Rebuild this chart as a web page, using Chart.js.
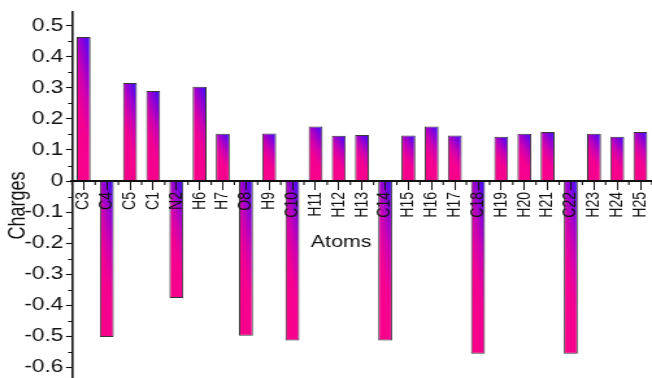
<!DOCTYPE html>
<html>
<head>
<meta charset="utf-8">
<script src="https://cdn.jsdelivr.net/npm/chart.js@4/dist/chart.umd.min.js"></script>
<style>
  html, body { margin: 0; padding: 0; background: #ffffff; }
  #plot { display: block; width: 652px; height: 378px; }
</style>
</head>
<body>
<canvas id="plot" width="502" height="378" style="width:652px;height:378px"></canvas>
<script>
// Partial atomic charges per atom
const atoms = ['C3','C4','C5','C1','N2','H6','H7','O8','H9','C10','H11','H12','H13',
               'C14','H15','H16','H17','C18','H19','H20','H21','C22','H23','H24','H25'];
const charges = [0.464, -0.503, 0.316, 0.290, -0.377, 0.304, 0.152, -0.499, 0.153,
                 -0.514, 0.176, 0.146, 0.148, -0.514, 0.147, 0.176, 0.147, -0.557,
                 0.143, 0.152, 0.158, -0.557, 0.152, 0.143, 0.158];

// Value axis: labelled ticks and the unlabelled half-steps between them
const yTickValues = [-0.6, -0.5, -0.4, -0.3, -0.2, -0.1, 0, 0.1, 0.2, 0.3, 0.4, 0.5];
const yTickLabels = ['-0.6', '-0.5', '-0.4', '-0.3', '-0.2', '-0.1', '0', '0.1', '0.2', '0.3', '0.4', '0.5'];
const yMinorValues = [-0.55, -0.45, -0.35, -0.25, -0.15, -0.05, 0.05, 0.15, 0.25, 0.35, 0.45];
const yRange = [-0.632, 0.545];

const xTitle = 'Atoms';
const yTitle = 'Charges';

const FONT = "'Liberation Sans', Arial, Helvetica, sans-serif";
const INK = '#111111';

// Each bar gets its own pink-to-blue gradient running from its bottom-left
// corner to its top-right corner, weighted mostly along the bar's height.
const GRAD_ACROSS = 0.3, GRAD_ALONG = 0.7;
function barGradient(context) {
  const chart = context.chart;
  const xs = chart.scales.x, ys = chart.scales.y;
  if (!chart.chartArea || !xs || !ys || context.dataIndex === undefined) return '#e0108f';
  const i = context.dataIndex;
  const v = charges[i];
  const step = xs.getPixelForValue(1) - xs.getPixelForValue(0);
  const w = step * 0.6;
  const x0 = xs.getPixelForValue(i) - w / 2;
  const yA = ys.getPixelForValue(0), yB = ys.getPixelForValue(v);
  const bottom = Math.max(yA, yB);
  const h = Math.max(Math.abs(yA - yB), 1);
  const gx = GRAD_ACROSS / w, gy = -GRAD_ALONG / h;
  const n2 = gx * gx + gy * gy;
  const g = chart.ctx.createLinearGradient(x0, bottom, x0 + gx / n2, bottom + gy / n2);
  g.addColorStop(0.0, 'rgb(250, 0, 135)');
  g.addColorStop(0.42, 'rgb(244, 0, 146)');
  g.addColorStop(0.62, 'rgb(205, 0, 178)');
  g.addColorStop(0.8, 'rgb(140, 0, 215)');
  g.addColorStop(1.0, 'rgb(50, 20, 255)');
  return g;
}

// The axes sit flush with the canvas edges, so no extra room for edge labels
function noEdgePadding(scale) {
  scale.paddingLeft = 0;
  scale.paddingRight = 0;
  scale.paddingTop = 0;
  scale.paddingBottom = 0;
}

// Short half-step ticks on both axes plus the two axis titles
const axisExtras = {
  id: 'axisExtras',
  afterDraw(chart) {
    const {ctx, chartArea} = chart;
    const xs = chart.scales.x, ys = chart.scales.y;
    const y0 = ys.getPixelForValue(0);
    ctx.save();
    ctx.strokeStyle = INK;
    ctx.lineWidth = 1.1;
    ctx.beginPath();
    yMinorValues.forEach(v => {
      const py = Math.round(ys.getPixelForValue(v)) + 0.5;
      ctx.moveTo(ys.right - 3, py);
      ctx.lineTo(ys.right, py);
    });
    const step = xs.getPixelForValue(1) - xs.getPixelForValue(0);
    for (let i = 0; i <= atoms.length; i++) {
      const px = xs.getPixelForValue(i) - step / 2;
      ctx.moveTo(px, y0);
      ctx.lineTo(px, y0 + 4);
    }
    ctx.stroke();

    ctx.fillStyle = INK;
    ctx.textAlign = 'center';
    ctx.textBaseline = 'middle';
    ctx.font = '16.5px ' + FONT;
    ctx.fillText(xTitle, (chartArea.left + chartArea.right) / 2 - 16, y0 + 61);
    ctx.font = '18px ' + FONT;
    ctx.translate(14.2, (chartArea.top + chartArea.bottom) / 2 + 11);
    ctx.rotate(-Math.PI / 2);
    ctx.fillText(yTitle, 0, 0);
    ctx.restore();
  }
};

new Chart(document.getElementById('plot'), {
  type: 'bar',
  data: {
    labels: atoms,
    datasets: [{
      data: charges,
      backgroundColor: barGradient,
      borderColor: '#353535',
      borderWidth: 1,
      barPercentage: 0.6,
      categoryPercentage: 1.0
    }]
  },
  options: {
    responsive: false,
    devicePixelRatio: 1,
    animation: false,
    layout: { padding: { top: 12, bottom: 1, left: 0, right: 0 } },
    plugins: {
      legend: { display: false },
      tooltip: { enabled: false }
    },
    scales: {
      x: {
        type: 'category',
        position: { y: 0 },
        offset: true,
        afterFit(scale) { scale.height = 0; noEdgePadding(scale); },
        grid: {
          display: true,
          drawOnChartArea: false,
          drawTicks: true,
          offset: false,
          tickLength: 8,
          tickColor: INK,
          tickWidth: 1,
          z: 1
        },
        border: { display: true, color: INK, width: 2, z: 1 },
        ticks: {
          autoSkip: false,
          minRotation: 90,
          maxRotation: 90,
          padding: 3,
          color: INK,
          z: 1,
          font: { family: FONT, size: 14 }
        }
      },
      y: {
        type: 'linear',
        position: 'left',
        min: yRange[0],
        max: yRange[1],
        afterFit(scale) { scale.width = 55.4; noEdgePadding(scale); },
        afterBuildTicks(scale) { scale.ticks = yTickValues.map(v => ({ value: v })); },
        grid: {
          display: true,
          drawOnChartArea: false,
          drawTicks: true,
          tickLength: 4.6,
          tickColor: INK,
          tickWidth: 1.1
        },
        border: { display: true, color: INK, width: 1.6 },
        ticks: {
          padding: 2,
          color: INK,
          font: { family: FONT, size: 17.5 },
          callback(value, index) { return yTickLabels[index]; }
        }
      }
    }
  },
  plugins: [axisExtras]
});
</script>
</body>
</html>
